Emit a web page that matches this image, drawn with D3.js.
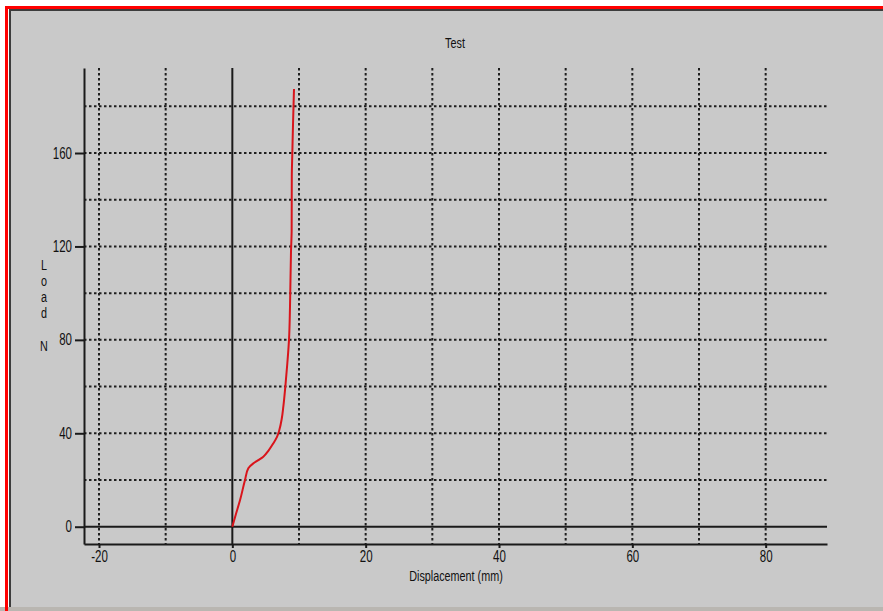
<!DOCTYPE html>
<meta charset="utf-8">
<script src="https://d3js.org/d3.v7.min.js"></script>
<style>
  body { margin: 0; background: #ffffff; }
  svg { display: block; }
  text { font-family: 'Liberation Sans', Arial, sans-serif; fill: #111; }
</style>
<body>
<div id="my_dataviz"></div>
<script>
// data
var displacement = [0, 0.5, 1.16, 1.9, 2.4, 3.15, 3.9, 4.65, 5.4, 6.15, 6.7, 7.05, 7.4, 7.65, 7.95, 8.25, 8.5, 8.65, 8.8, 8.9, 8.92, 9.0, 9.1, 9.25];
var load = [0, 5, 11.4, 20, 25, 27.1, 28.5, 30, 32.5, 35.7, 38.5, 41.4, 46, 51.4, 60, 70, 80, 94.2, 117.8, 127, 150, 160, 172, 187.4];
var xTicks = [-20, 0, 20, 40, 60, 80];
var yTicks = [0, 40, 80, 120, 160];
var xGrid = [-20, -10, 10, 20, 30, 40, 50, 60, 70, 80];
var yGrid = [20, 40, 60, 80, 100, 120, 140, 160, 180];

var width = 883, height = 611;
var squeeze = 0.72; // the old narrow system font

var svg = d3.select("#my_dataviz")
  .append("svg")
    .attr("width", width)
    .attr("height", height);

// squeeze text horizontally around its own x
function narrow(sel) {
  sel.each(function() {
    var t = d3.select(this);
    var tx = +t.attr("x") || 0;
    t.attr("x", tx / squeeze).attr("transform", "scale(" + squeeze + ",1)");
  });
}

// window frame
svg.append("rect").attr("x", 10).attr("y", 10).attr("width", width - 10).attr("height", 597).attr("fill", "#c9c9c9");
svg.append("rect").attr("x", 0).attr("y", 607).attr("width", width).attr("height", 4).attr("fill", "#b9b6b1");
svg.append("rect").attr("x", 5).attr("y", 6).attr("width", width - 5).attr("height", 3).attr("fill", "#ff0000");
svg.append("rect").attr("x", 5).attr("y", 6).attr("width", 3).attr("height", height - 6).attr("fill", "#ff0000");
svg.append("rect").attr("x", 9).attr("y", 9).attr("width", width - 9).attr("height", 2).attr("fill", "#3c3c3c");
svg.append("rect").attr("x", 9).attr("y", 9).attr("width", 2).attr("height", 598).attr("fill", "#3c3c3c");

// scales
var x = d3.scaleLinear().domain([-22.25, 89.2]).range([84, 827]);
var y = d3.scaleLinear().domain([-7.4, 196.4]).range([544, 68]);

// dotted grid
svg.append("g").selectAll("line").data(xGrid).enter().append("line")
  .attr("x1", function(d) { return x(d); }).attr("x2", function(d) { return x(d); })
  .attr("y1", y.range()[1]).attr("y2", y.range()[0])
  .attr("stroke", "#1e1e1e").attr("stroke-width", 2).attr("stroke-dasharray", "2.5,2.5");
svg.append("g").selectAll("line").data(yGrid).enter().append("line")
  .attr("x1", x.range()[0]).attr("x2", x.range()[1])
  .attr("y1", function(d) { return y(d); }).attr("y2", function(d) { return y(d); })
  .attr("stroke", "#1e1e1e").attr("stroke-width", 2).attr("stroke-dasharray", "2.5,2.5");

// zero lines
svg.append("line").attr("x1", x.range()[0]).attr("x2", x.range()[1]).attr("y1", y(0)).attr("y2", y(0))
  .attr("stroke", "#1a1a1a").attr("stroke-width", 2);
svg.append("line").attr("x1", x(0)).attr("x2", x(0)).attr("y1", y.range()[1]).attr("y2", y.range()[0])
  .attr("stroke", "#1a1a1a").attr("stroke-width", 2);

// axes
var yAxis = svg.append("g")
  .attr("transform", "translate(" + x.range()[0] + ",0)")
  .call(d3.axisLeft(y).tickValues(yTicks).tickSize(9).tickPadding(3).tickSizeOuter(0));
var xAxis = svg.append("g")
  .attr("transform", "translate(0," + y.range()[0] + ")")
  .call(d3.axisBottom(x).tickValues(xTicks).tickSize(4).tickPadding(3).tickSizeOuter(0)
    .tickFormat(function(d) { return d < 0 ? "-" + Math.abs(d) : d; }));
[xAxis, yAxis].forEach(function(a) {
  a.attr("font-family", null).attr("font-size", null);
  a.select(".domain").attr("stroke", "#1a1a1a").attr("stroke-width", 2);
  a.selectAll(".tick line").attr("stroke", "#1a1a1a").attr("stroke-width", 2);
  a.selectAll(".tick text").style("font-size", "16px").attr("fill", "#111").call(narrow);
});

// the curve
var line = d3.line()
  .x(function(d) { return x(d[0]); })
  .y(function(d) { return y(d[1]); })
  .curve(d3.curveMonotoneY);
svg.append("path")
  .datum(d3.zip(displacement, load))
  .attr("fill", "none")
  .attr("stroke", "#d9141b")
  .attr("stroke-width", 2)
  .attr("d", line);

// titles
svg.append("text").attr("x", 455).attr("y", 48).attr("text-anchor", "middle")
  .style("font-size", "15px").text("Test").call(narrow);
svg.append("text").attr("x", 456).attr("y", 581).attr("text-anchor", "middle")
  .style("font-size", "15px").text("Displacement (mm)").call(narrow);
var yLabel = ["L", "o", "a", "d"];
svg.append("g").selectAll("text").data(yLabel).enter().append("text")
  .attr("x", 44).attr("y", function(d, i) { return 270 + i * 16; })
  .attr("text-anchor", "middle").style("font-size", "15px")
  .text(function(d) { return d; }).call(narrow);
svg.append("text").attr("x", 44).attr("y", 351).attr("text-anchor", "middle")
  .style("font-size", "15px").text("N").call(narrow);
</script>
</body>
